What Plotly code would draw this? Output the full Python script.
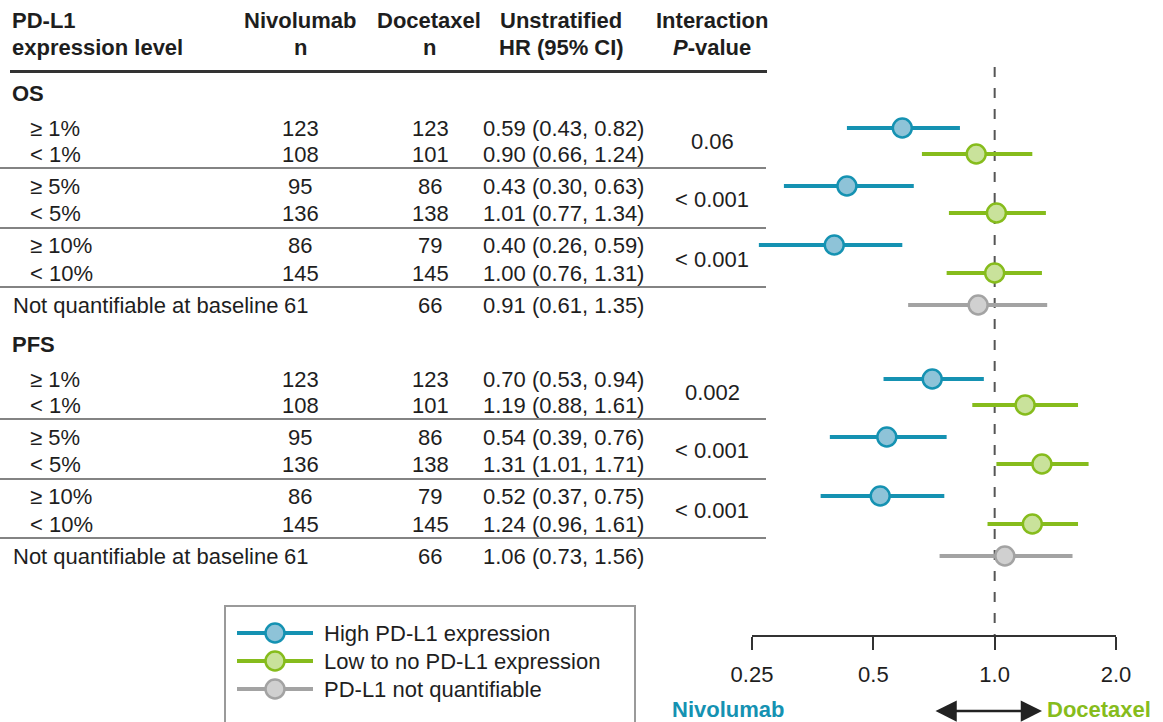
import math
import plotly.graph_objects as go

W, H = 1163, 722

# ---------------------------------------------------------------- data
subgroups = ["≥ 1%", "< 1%", "≥ 5%", "< 5%", "≥ 10%", "< 10%",
             "Not quantifiable at baseline"]
expression = ["high", "low", "high", "low", "high", "low", "nq"]

nivo_n = [123, 108, 95, 136, 86, 145, 61]
doce_n = [123, 101, 86, 138, 79, 145, 66]

os_hr = [0.59, 0.90, 0.43, 1.01, 0.40, 1.00, 0.91]
os_lo = [0.43, 0.66, 0.30, 0.77, 0.26, 0.76, 0.61]
os_hi = [0.82, 1.24, 0.63, 1.34, 0.59, 1.31, 1.35]
os_p = ["0.06", "< 0.001", "< 0.001"]

pfs_hr = [0.70, 1.19, 0.54, 1.31, 0.52, 1.24, 1.06]
pfs_lo = [0.53, 0.88, 0.39, 1.01, 0.37, 0.96, 0.73]
pfs_hi = [0.94, 1.61, 0.76, 1.71, 0.75, 1.61, 1.56]
pfs_p = ["0.002", "< 0.001", "< 0.001"]

tick_values = [0.25, 0.5, 1.0, 2.0]
tick_labels = ["0.25", "0.5", "1.0", "2.0"]

group_names = {"high": "High PD-L1 expression",
               "low": "Low to no PD-L1 expression",
               "nq": "PD-L1 not quantifiable"}

# ---------------------------------------------------------------- styling
FONT = "Liberation Sans, Arial, Helvetica, sans-serif"
TXT = "#1e1e1e"
FS = 22
line_col = {"high": "#1592b2", "low": "#86bc1c", "nq": "#a3a3a3"}
fill_col = {"high": "#8ec3d8", "low": "#c9e29b", "nq": "#d0d0d0"}
TEAL_TXT = "#1592b2"
GREEN_TXT = "#86bc1c"

# vertical layout (page pixels, measured from the top)
section_top = {"OS": 93, "PFS": 344}
row_offsets = [35, 61, 93, 120, 152, 180, 212]
sep_offsets = [75, 135, 194]
AXIS_Y = 636

# column anchors (page pixels)
COL_LABEL, COL_SUB = 10, 28
COL_NIVO, COL_DOCE, COL_HR, COL_P = 300, 430, 563, 712

sections = {
    "OS": (os_hr, os_lo, os_hi, os_p),
    "PFS": (pfs_hr, pfs_lo, pfs_hi, pfs_p),
}

fig = go.Figure()
annotations = []
shapes = []


def txt(x, y, s, anchor="left", bold=False, color=TXT, size=FS):
    annotations.append(dict(
        x=x, y=y, xref="x2", yref="y", text=f"<b>{s}</b>" if bold else s,
        showarrow=False, xanchor=anchor, yanchor="middle",
        font=dict(family=FONT, size=size, color=color)))


# ---------------------------------------------------------------- header
txt(COL_LABEL, 20, "PD-L1", bold=True)
txt(COL_LABEL, 47, "expression level", bold=True)
for cx, l1, l2 in [(COL_NIVO, "Nivolumab", "n"), (COL_DOCE - 1, "Docetaxel", "n"),
                   (COL_HR - 2, "Unstratified", "HR (95% CI)"),
                   (COL_P, "Interaction", "<i>P</i>-value")]:
    txt(cx, 20, l1, anchor="center", bold=True)
    txt(cx, 47, l2, anchor="center", bold=True)

shapes.append(dict(type="line", xref="x2", yref="y", x0=10, x1=767, y0=71.5, y1=71.5,
                   line=dict(color="#333333", width=3)))

# ---------------------------------------------------------------- table + forest rows
pts = {g: dict(x=[], y=[], lx=[], ly=[]) for g in line_col}
for name, (hr, lo, hi, pv) in sections.items():
    top = section_top[name]
    txt(COL_LABEL, top, name, bold=True)
    for i, sg in enumerate(subgroups):
        y = top + row_offsets[i]
        is_nq = expression[i] == "nq"
        txt(COL_LABEL + 1 if is_nq else COL_SUB, y, sg)
        txt(COL_NIVO - (4 if is_nq else 0), y, str(nivo_n[i]), anchor="center")
        txt(COL_DOCE, y, str(doce_n[i]), anchor="center")
        txt(COL_HR, y, f"{hr[i]:.2f} ({lo[i]:.2f}, {hi[i]:.2f})", anchor="center")
        g = expression[i]
        pts[g]["x"].append(hr[i])
        pts[g]["y"].append(y)
        pts[g]["lx"] += [lo[i], hi[i], None]
        pts[g]["ly"] += [y, y, None]
    for k, p in enumerate(pv):
        y_mid = top + (row_offsets[2 * k] + row_offsets[2 * k + 1]) / 2
        txt(COL_P, y_mid, p, anchor="center")
    for off in sep_offsets:
        shapes.append(dict(type="line", xref="x2", yref="y", x0=0, x1=766,
                           y0=top + off, y1=top + off,
                           line=dict(color="#5a5a5a", width=1.5)))

# reference line at HR = 1
shapes.append(dict(type="line", xref="x", yref="y", x0=1, x1=1, y0=67, y1=AXIS_Y,
                   line=dict(color="#555555", width=2, dash="10px,11px"), layer="below"))

for g in ["high", "low", "nq"]:
    fig.add_trace(go.Scatter(
        x=pts[g]["lx"], y=pts[g]["ly"], mode="lines", xaxis="x", yaxis="y",
        line=dict(color=line_col[g], width=4), showlegend=False, hoverinfo="skip"))
    fig.add_trace(go.Scatter(
        x=pts[g]["x"], y=pts[g]["y"], mode="markers", xaxis="x", yaxis="y",
        marker=dict(size=19, color=fill_col[g], line=dict(color=line_col[g], width=2.5)),
        name=group_names[g], showlegend=False))

# ---------------------------------------------------------------- key box
shapes.append(dict(type="rect", xref="x2", yref="y", x0=225, x1=635, y0=606, y1=740,
                   line=dict(color="#9a9a9a", width=2), fillcolor="rgba(0,0,0,0)"))
for k, g in enumerate(["high", "low", "nq"]):
    ky = 633 + 28 * k
    fig.add_trace(go.Scatter(x=[237, 313], y=[ky, ky], mode="lines", xaxis="x2", yaxis="y",
                             line=dict(color=line_col[g], width=4),
                             showlegend=False, hoverinfo="skip"))
    fig.add_trace(go.Scatter(x=[275], y=[ky], mode="markers", xaxis="x2", yaxis="y",
                             marker=dict(size=19, color=fill_col[g],
                                         line=dict(color=line_col[g], width=2.5)),
                             showlegend=False, hoverinfo="skip"))
    txt(322, ky, group_names[g])

# ---------------------------------------------------------------- axis footer
txt(670, 709, "Nivolumab", bold=True, color=TEAL_TXT)
txt(1045, 709, "Docetaxel", bold=True, color=GREEN_TXT)
annotations.append(dict(x=1042, y=711, ax=934, ay=711, xref="x2", yref="y",
                        axref="x2", ayref="y", text="", showarrow=True,
                        arrowhead=2, arrowside="end+start", arrowsize=1.7,
                        arrowwidth=2.5, arrowcolor="#222222", standoff=0, startstandoff=0))

fig.update_layout(
    width=W, height=H, margin=dict(l=0, r=0, t=0, b=0, pad=0, autoexpand=False),
    paper_bgcolor="white", plot_bgcolor="rgba(0,0,0,0)",
    showlegend=False,
    font=dict(family=FONT, color=TXT),
    xaxis=dict(type="log", domain=[752 / W, 1116 / W],
               range=[math.log10(0.25), math.log10(2.0)],
               anchor="free", position=1 - AXIS_Y / H, automargin=False,
               showline=True, linecolor="#333333", linewidth=2,
               ticks="outside", ticklen=13, tickwidth=2, tickcolor="#333333",
               ticklabelstandoff=6,
               tickvals=tick_values, ticktext=tick_labels,
               tickfont=dict(family=FONT, size=FS, color=TXT),
               showgrid=False, zeroline=False, fixedrange=True),
    xaxis2=dict(domain=[0, 1], range=[0, W], anchor="y", visible=False,
                automargin=False, showgrid=False, zeroline=False, fixedrange=True),
    yaxis=dict(domain=[0, 1], range=[H, 0], visible=False, automargin=False,
               showgrid=False, zeroline=False, fixedrange=True),
    annotations=annotations, shapes=shapes,
)

fig.write_html("out.html", config={"displayModeBar": False})
